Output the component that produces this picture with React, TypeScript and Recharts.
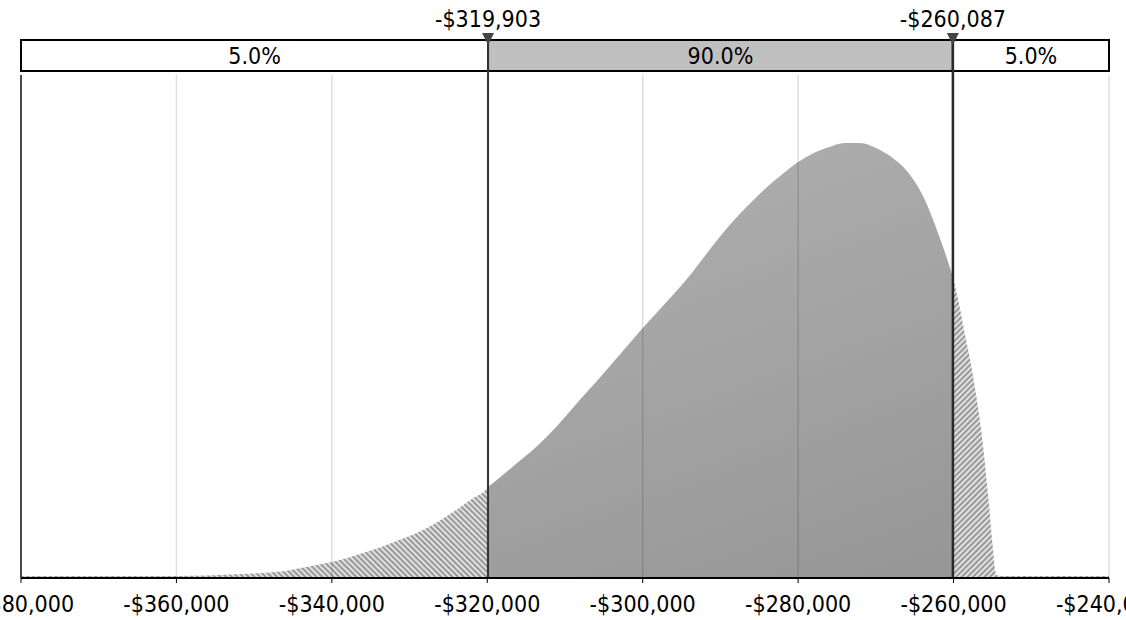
import React from 'react';
import {
  ComposedChart, Area, XAxis, YAxis, ReferenceLine, ReferenceArea,
} from 'recharts';

// --- Data ---
const xValues = [
  -380000, -370000, -360000, -356000, -353000, -350000, -348000, -346000, -344000, -342000,
  -340000, -338000, -336000, -334000, -332000, -330000, -328000, -326000, -324000, -322000,
  -320000, -319903, -318000, -316000, -314000, -312000, -310000, -308000, -306000, -304000,
  -302000, -300000, -298000, -296000, -294000, -292000, -290000, -288000, -286000, -284000,
  -282000, -280000, -278000, -276000, -274000, -272000, -270000, -268000, -266000, -264000,
  -262000, -261000, -260087, -259400, -258500, -257700, -257000, -256400, -255500, -255000,
  -254500, -254000, -250000, -240000,
];
const density = [
  0.2, 0.2, 0.2, 0.25, 0.35, 0.45, 0.55, 0.7, 1.0, 1.3,
  1.6, 2.0, 2.5, 3.0, 3.6, 4.2, 4.9, 5.8, 6.8, 7.9,
  9.0, 9.1, 10.3, 11.6, 12.9, 14.4, 16.1, 17.9, 19.6, 21.4,
  23.2, 25.0, 26.7, 28.4, 30.2, 32.2, 34.2, 36.0, 37.6, 39.1,
  40.4, 41.6, 42.5, 43.1, 43.5, 43.5, 43.0, 42.1, 40.7, 38.3,
  34.5, 32.3, 30.1, 27.8, 24.2, 21.1, 17.8, 14.5, 7.8, 3.5,
  0.3, 0.2, 0.2, 0.2,
];
const xTicks = [-380000, -360000, -340000, -320000, -300000, -280000, -260000, -240000];
const lowerMark = -319903;
const upperMark = -260087;
const bandLabels = ['5.0%', '90.0%', '5.0%'];

const FONT = '"DejaVu Sans Condensed", "DejaVu Sans", sans-serif';
const Y_MAX = 53.8;
const BAR_LOW = 50.7;
const GRID_TOP = 50.3;

const data = xValues.map((x, i) => ({ x, d: density[i] }));

const fmt = (v: number) => '-$' + Math.abs(v).toLocaleString('en-US');

const MarkerLabel = ({ viewBox, text }: any) => {
  const cx = viewBox.x;
  const top = viewBox.y;
  return (
    <g>
      <text x={cx} y={top - 13} textAnchor="middle" fontSize={23} fontFamily={FONT} fill="#000">{text}</text>
      <polygon points={`${cx - 6},${top - 7} ${cx + 6},${top - 7} ${cx},${top + 5}`} fill="#444" />
    </g>
  );
};

export default function App() {
  return (
    <div style={{ position: 'absolute', left: 0, top: 0, width: 1126, height: 620, background: '#fff' }}>
      <ComposedChart width={1126} height={620} data={data} margin={{ top: 40, right: 17, left: 21, bottom: 12 }}>
        <defs>
          <linearGradient id="midFill" gradientUnits="userSpaceOnUse" x1="650" y1="110" x2="827" y2="600">
            <stop offset="0%" stopColor="#b0b0b0" />
            <stop offset="100%" stopColor="#979797" />
          </linearGradient>
          <pattern id="hatchLeft" patternUnits="userSpaceOnUse" width="4" height="4" patternTransform="rotate(-45)">
            <rect width="4" height="4" fill="#9a9a9a" />
            <line x1="2" y1="0" x2="2" y2="4" stroke="#fff" strokeWidth="1.4" />
          </pattern>
          <pattern id="hatchRight" patternUnits="userSpaceOnUse" width="4" height="4" patternTransform="rotate(45)">
            <rect width="4" height="4" fill="#9a9a9a" />
            <line x1="2" y1="0" x2="2" y2="4" stroke="#fff" strokeWidth="1.4" />
          </pattern>
        </defs>
        <XAxis
          dataKey="x"
          type="number"
          domain={[-380000, -240000]}
          ticks={xTicks}
          tickFormatter={fmt}
          height={30}
          tickSize={5}
          tickMargin={13}
          interval={0}
          axisLine={{ stroke: '#000', strokeWidth: 2 }}
          tickLine={{ stroke: '#000' }}
          tick={{ fontSize: 23, fontFamily: FONT, fill: '#000' }}
        />
        <YAxis type="number" domain={[0, Y_MAX]} hide />

        <Area type="monotone" dataKey={(p: any) => (p.x <= lowerMark ? p.d : null)} stroke="none" fill="url(#hatchLeft)" fillOpacity={1} isAnimationActive={false} />
        <Area type="monotone" dataKey={(p: any) => (p.x >= lowerMark && p.x <= upperMark ? p.d : null)} stroke="none" fill="url(#midFill)" fillOpacity={1} isAnimationActive={false} />
        <Area type="monotone" dataKey={(p: any) => (p.x >= upperMark ? p.d : null)} stroke="none" fill="url(#hatchRight)" fillOpacity={1} isAnimationActive={false} />

        {xTicks.slice(1).map((t) => (
          <ReferenceLine key={t} segment={[{ x: t, y: 0 }, { x: t, y: GRID_TOP }]} stroke="rgba(0,0,0,0.13)" strokeWidth={1.5} ifOverflow="visible" />
        ))}
        <ReferenceLine segment={[{ x: -380000, y: 0 }, { x: -380000, y: GRID_TOP }]} stroke="#4a4a4a" strokeWidth={2} ifOverflow="visible" />

        <ReferenceArea x1={-380000} x2={lowerMark} y1={BAR_LOW} y2={Y_MAX} fill="#fff" fillOpacity={1} stroke="#000" strokeWidth={2}
          label={{ value: bandLabels[0], position: 'center', fontSize: 23, fontFamily: FONT, fill: '#000' }} />
        <ReferenceArea x1={lowerMark} x2={upperMark} y1={BAR_LOW} y2={Y_MAX} fill="#c0c0c0" fillOpacity={1} stroke="#000" strokeWidth={2}
          label={{ value: bandLabels[1], position: 'center', fontSize: 23, fontFamily: FONT, fill: '#000' }} />
        <ReferenceArea x1={upperMark} x2={-240000} y1={BAR_LOW} y2={Y_MAX} fill="#fff" fillOpacity={1} stroke="#000" strokeWidth={2}
          label={{ value: bandLabels[2], position: 'center', fontSize: 23, fontFamily: FONT, fill: '#000' }} />

        <ReferenceLine x={lowerMark} stroke="#333" strokeWidth={2} label={<MarkerLabel text={fmt(lowerMark)} />} />
        <ReferenceLine x={upperMark} stroke="#2a2a2a" strokeWidth={2.5} label={<MarkerLabel text={fmt(upperMark)} />} />
      </ComposedChart>
    </div>
  );
}
